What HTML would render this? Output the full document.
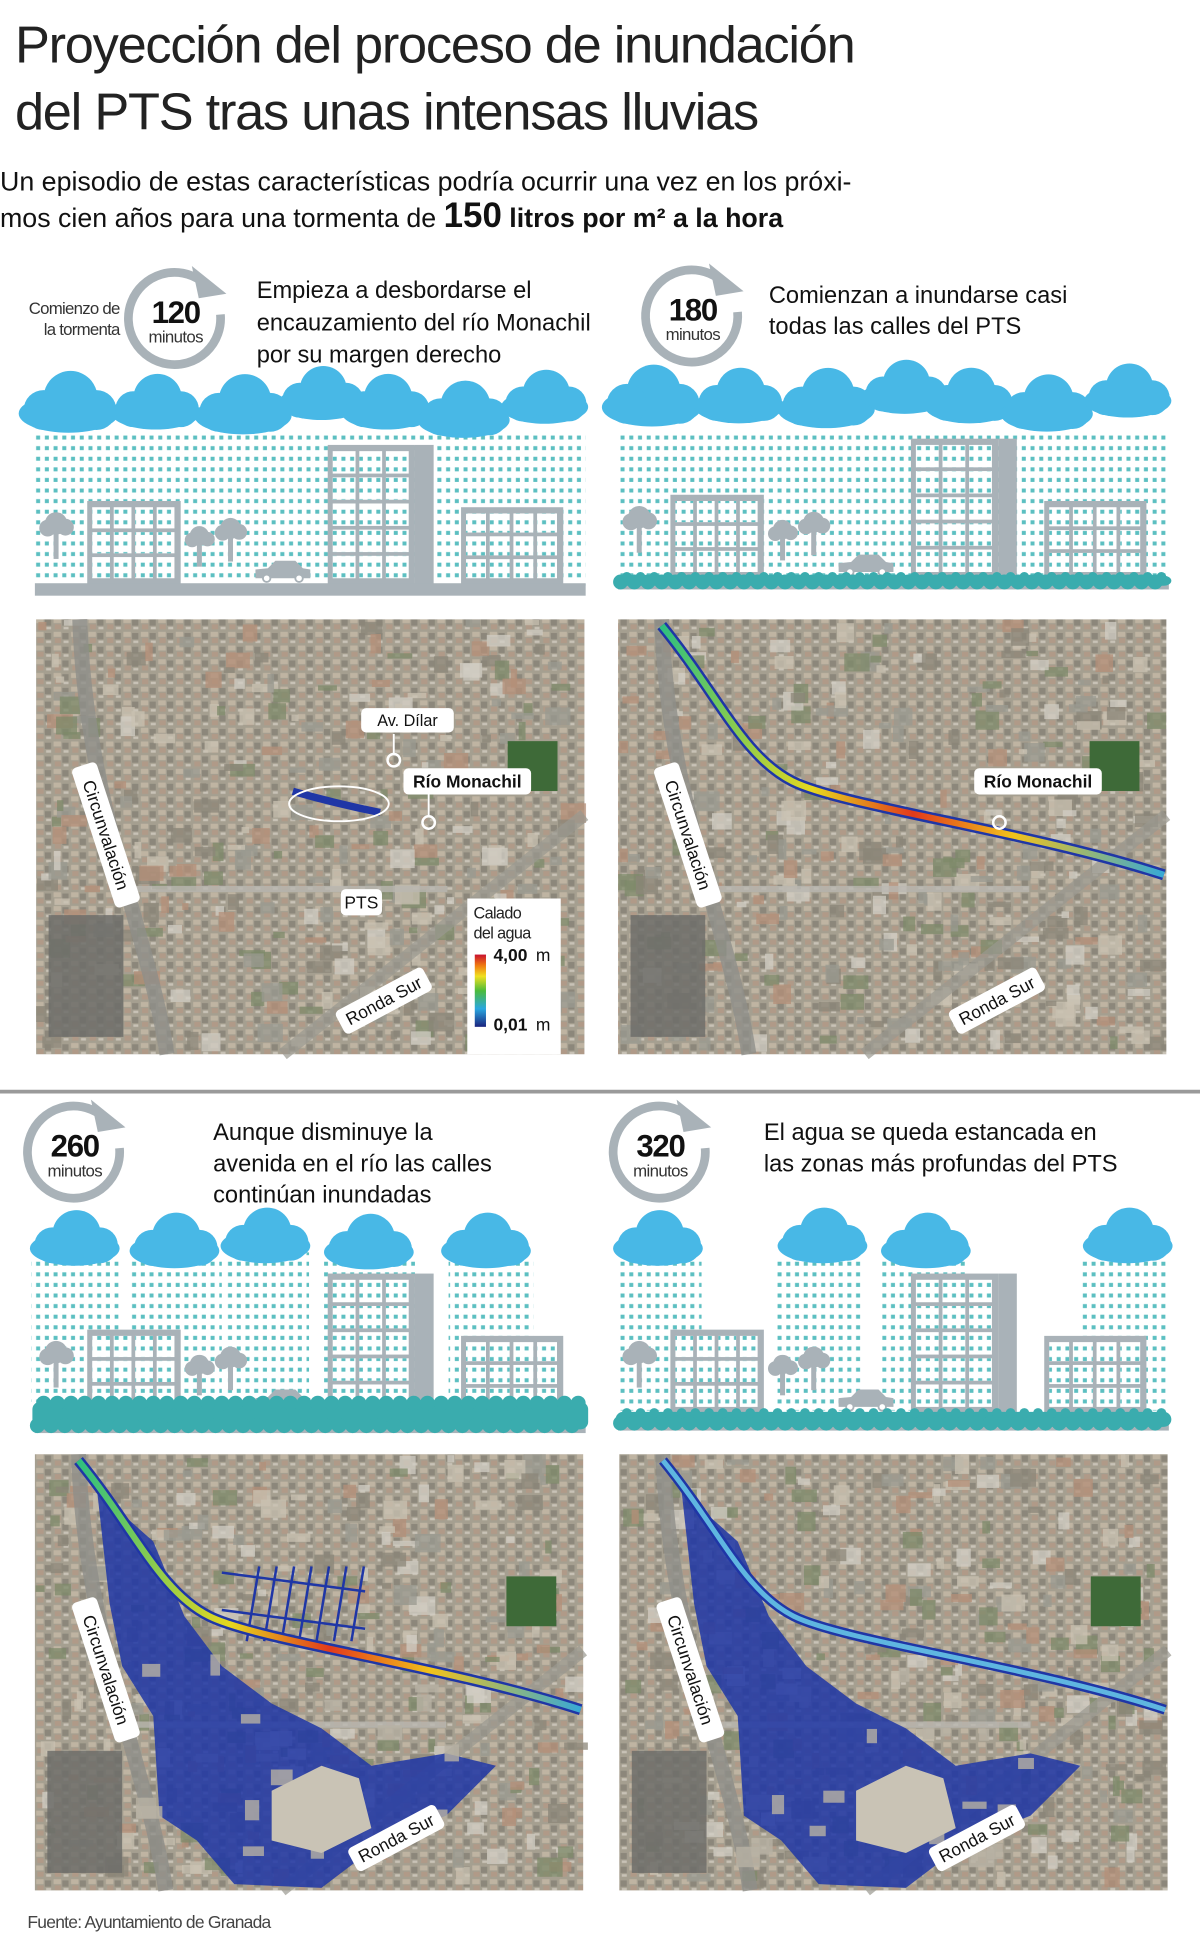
<!DOCTYPE html>
<html><head><meta charset="utf-8">
<style>
html,body{margin:0;padding:0;background:#fff;width:1200px;height:1954px;overflow:hidden;}
svg{display:block;}
text{font-family:"Liberation Sans","DejaVu Sans",sans-serif;}
</style></head>
<body>
<svg id="s" xmlns="http://www.w3.org/2000/svg" width="1200" height="1954" viewBox="0 0 963 1568">
<defs>
<pattern id="rain" x="0" y="0" width="7" height="8.5" patternUnits="userSpaceOnUse">
<rect x="1" y="1" width="3.2" height="3.2" fill="#5cbfc1"/>
</pattern>
<pattern id="aer" x="0" y="0" width="14" height="11" patternUnits="userSpaceOnUse">
<rect width="14" height="11" fill="#a59f90"/>
<rect x="1" y="1" width="6" height="4" fill="#bfb4a2"/>
<rect x="8" y="2" width="5" height="5" fill="#8c877b"/>
<rect x="2" y="6" width="5" height="4" fill="#b09a88"/>
<rect x="9" y="8" width="4" height="2" fill="#c8c2b6"/>
</pattern>
<linearGradient id="leg" x1="0" y1="1" x2="0" y2="0">
<stop offset="0" stop-color="#1a237e"/><stop offset="0.25" stop-color="#2aa7e0"/>
<stop offset="0.5" stop-color="#4cbb3a"/><stop offset="0.7" stop-color="#f0e020"/>
<stop offset="0.85" stop-color="#f07a10"/><stop offset="1" stop-color="#c8102e"/>
</linearGradient>
<linearGradient id="riv" x1="0" y1="0" x2="1" y2="0">
<stop offset="0" stop-color="#2fbf7f"/><stop offset="0.3" stop-color="#e6d81e"/><stop offset="0.5" stop-color="#e23a1b"/><stop offset="0.7" stop-color="#f1c21b"/><stop offset="1" stop-color="#37a9d6"/>
</linearGradient>
</defs>

<text x="12" y="50" font-size="42" fill="#222" letter-spacing="-1">Proyección del proceso de inundación</text>
<text x="12" y="104" font-size="42" fill="#222" letter-spacing="-1">del PTS tras unas intensas lluvias</text>
<text x="0" y="153" font-size="21.5" fill="#111">Un episodio de estas características podría ocurrir una vez en los próxi-</text>
<text x="0" y="182" font-size="21.5" fill="#111" font-weight="bold"><tspan font-weight="normal">mos cien años para una tormenta de </tspan><tspan font-size="28">150</tspan> litros por m² a la hora</text>

<g id="g"></g>

<line x1="0" y1="876" x2="963" y2="876" stroke="#9a9a9a" stroke-width="3"/>
<text x="22" y="1547" font-size="14" fill="#444" letter-spacing="-0.6">Fuente: Ayuntamiento de Granada</text>
</svg>
<script>
var NS="http://www.w3.org/2000/svg",G=document.getElementById('g');
function el(t,a,p){var e=document.createElementNS(NS,t);for(var k in a)e.setAttribute(k,a[k]);(p||G).appendChild(e);return e;}
function tx(x,y,s,str,a){a=a||{};a.x=x;a.y=y;a['font-size']=s;if(!a.fill)a.fill='#111';var e=el('text',a);e.textContent=str;return e;}
var seed=7;function R(){seed=(seed*16807)%2147483647;return seed/2147483647;}
var GR='#a9b2b8';
function clock(cx,cy,num,r){
 el('path',{d:'M '+(cx+r*0.55)+' '+(cy-r*0.83)+' A '+r+' '+r+' 0 1 0 '+(cx+r*0.97)+' '+(cy-r*0.1),fill:'none',stroke:GR,'stroke-width':7});
 el('path',{d:'M '+(cx+r*0.35)+' '+(cy-r*1.15)+' L '+(cx+r*1.1)+' '+(cy-r*0.55)+' L '+(cx+r*0.5)+' '+(cy-r*0.45)+' Z',fill:GR});
 tx(cx,cy+3,25,num,{'text-anchor':'middle','font-weight':'bold','letter-spacing':'-1'});
 tx(cx,cy+19,13.5,'minutos',{'text-anchor':'middle',fill:'#333','letter-spacing':'-0.5'});
}
function cloud(cx,cy,w){
 var h=w*0.35;
 el('ellipse',{cx:cx,cy:cy+h*0.35,rx:w/2,ry:h*0.55,fill:'#48b8e6'});
 el('circle',{cx:cx+w*0.02,cy:cy-h*0.1,r:w*0.27,fill:'#48b8e6'});
 el('circle',{cx:cx-w*0.25,cy:cy+h*0.25,r:w*0.2,fill:'#48b8e6'});
 el('circle',{cx:cx+w*0.28,cy:cy+h*0.25,r:w*0.2,fill:'#48b8e6'});
}
function building(x,y,w,h,cols,rows){
 el('rect',{x:x,y:y,width:w,height:h,fill:GR});
 var pw=(w-6)/cols,ph=(h-8)/rows;
 for(var i=0;i<cols;i++)for(var j=0;j<rows;j++){el('rect',{x:x+4+i*pw,y:y+5+j*ph,width:pw-3,height:ph-3,fill:'#fff'});el('rect',{x:x+4+i*pw,y:y+5+j*ph,width:pw-3,height:ph-3,fill:'url(#rain)'});}
}
function tree(x,y,s){el('rect',{x:x-2,y:y,width:4,height:s*1.9,fill:GR});el('circle',{cx:x,cy:y,r:s*0.6,fill:GR});el('circle',{cx:x-s*0.45,cy:y+s*0.25,r:s*0.45,fill:GR});el('circle',{cx:x+s*0.5,cy:y+s*0.2,r:s*0.45,fill:GR});}
function car(x,y){el('path',{d:'M'+x+' '+(y+14)+' l0 -7 l10 -1 l6 -6 l16 0 l6 6 l6 1 l0 7 z',fill:GR});el('circle',{cx:x+9,cy:y+14,r:3,fill:'#fff',stroke:GR,'stroke-width':1.5});el('circle',{cx:x+35,cy:y+14,r:3,fill:'#fff',stroke:GR,'stroke-width':1.5});}
function scene(ox,oy,rainCols,clouds,ground){
 rainCols.forEach(function(c){el('rect',{x:ox+c[0],y:oy+c[1],width:c[2]-c[0],height:c[3]-c[1],fill:'url(#rain)'});});
 tree(ox+45,oy+420,15);
 building(ox+70,oy+402,75,68,4,3);
 tree(ox+160,oy+430,13);tree(ox+185,oy+424,14);
 car(ox+205,oy+450);
 building(ox+263,oy+357,70,113,3,5);el('rect',{x:ox+333,y:oy+357,width:15,height:113,fill:GR});
 building(ox+370,oy+407,82,63,4,3);
 clouds.forEach(function(c){cloud(ox+c[0],oy+c[1],c[2]);});
 if(ground==0){el('rect',{x:ox+28,y:oy+468,width:442,height:10,fill:GR});}
 else{var y0=oy+ground[0],hh=ground[1];el('rect',{x:ox+28,y:y0+hh-6,width:442,height:6,fill:GR});
  el('rect',{x:ox+26,y:y0+3,width:446,height:hh-6,rx:6,fill:'#3aacae'});
  for(var x=ox+30;x<ox+470;x+=11){el('circle',{cx:x,cy:y0+hh-6,r:6,fill:'#3aacae'});el('circle',{cx:x+5,cy:y0+4,r:hh>20?6:4,fill:'#3aacae'});}}
}
function aerial(x,y,w,h){
 el('rect',{x:x,y:y,width:w,height:h,fill:'url(#aer)'});
 for(var i=0;i<260;i++){var rx=x+R()*(w-14),ry=y+R()*(h-12);var c=['#c9c1b2','#8b8578','#b48f78','#7d8a6a','#9a9a90','#d2cec4'][Math.floor(R()*6)];
  el('rect',{x:rx,y:ry,width:5+R()*16,height:4+R()*12,fill:c,opacity:0.75});}
 el('path',{d:'M'+(x+35)+' '+y+' C '+(x+40)+' '+(y+150)+' '+(x+90)+' '+(y+250)+' '+(x+105)+' '+(y+h),stroke:'#8e8e8a','stroke-width':12,fill:'none',opacity:0.8});
 el('path',{d:'M'+(x+w)+' '+(y+h*0.45)+' L '+(x+w*0.45)+' '+(y+h),stroke:'#9a9890','stroke-width':10,fill:'none',opacity:0.7});
 el('path',{d:'M'+(x+60)+' '+(y+h*0.62)+' L '+(x+w*0.75)+' '+(y+h*0.62),stroke:'#b9b7b0','stroke-width':5,fill:'none',opacity:0.8});
 el('rect',{x:x+w*0.86,y:y+h*0.28,width:40,height:40,fill:'#3e6a38'});
 el('rect',{x:x+10,y:y+h*0.68,width:60,height:h*0.28,fill:'#6d6d6a',opacity:0.85});
}
function label(x,y,str,s,rot,bold){
 var g=el('g',{transform:'translate('+x+','+y+') rotate('+(rot||0)+')'});
 var t=document.createElementNS(NS,'text');t.setAttribute('font-size',s);t.setAttribute('x',0);t.setAttribute('y',s*0.35);t.setAttribute('text-anchor','middle');t.setAttribute('fill','#111');if(bold)t.setAttribute('font-weight','bold');t.textContent=str;
 var w=str.length*s*0.55+10;el('rect',{x:-w/2,y:-s*0.75,width:w,height:s*1.5,rx:4,fill:'#fff'},g);g.appendChild(t);
}
function flood(x,y,big){
 var d='M'+(x+50)+' '+(y+30)+' L'+(x+60)+' '+(y+120)+' L'+(x+70)+' '+(y+170)+' L'+(x+95)+' '+(y+210)+' L'+(x+100)+' '+(y+290)+' L'+(x+130)+' '+(y+310)+' L'+(x+160)+' '+(y+345)+' L'+(x+230)+' '+(y+348)+' L'+(x+280)+' '+(y+310)+' L'+(x+330)+' '+(y+290)+' L'+(x+370)+' '+(y+250)+' L'+(x+330)+' '+(y+240)+' L'+(x+270)+' '+(y+250)+' L'+(x+230)+' '+(y+220)+' L'+(x+190)+' '+(y+200)+' L'+(x+150)+' '+(y+170)+' L'+(x+120)+' '+(y+130)+' L'+(x+95)+' '+(y+70)+' Z';
 el('path',{d:d,fill:'#1f36a6',opacity:0.85});
 for(var i=0;i<18;i++){el('rect',{x:x+80+R()*250,y:y+150+R()*170,width:6+R()*16,height:5+R()*12,fill:'#b8b2a4',opacity:0.8});}
 el('path',{d:'M'+(x+190)+' '+(y+270)+' l40 -20 l30 10 l10 40 l-40 20 l-40 -10 z',fill:'#c9c3b5'});
 if(big){for(var i=0;i<7;i++){el('line',{x1:x+180+i*14,y1:y+90,x2:x+170+i*14,y2:y+150,stroke:'#1f36a6','stroke-width':2});}
  el('line',{x1:x+150,y1:y+95,x2:x+265,y2:y+110,stroke:'#1f36a6','stroke-width':2});el('line',{x1:x+150,y1:y+125,x2:x+265,y2:y+140,stroke:'#1f36a6','stroke-width':2});}
}
function river(x,y,w,col){
 var d='M'+(x+35)+' '+(y+5)+' C '+(x+80)+' '+(y+60)+' '+(x+100)+' '+(y+110)+' '+(x+140)+' '+(y+130)+' S '+(x+330)+' '+(y+170)+' '+(x+438)+' '+(y+205);
 el('path',{d:d,stroke:'#1f36a6','stroke-width':w+4,fill:'none'});
 el('path',{d:d,stroke:col,'stroke-width':w,fill:'none'});
}

// Panel 1
tx(96,252,13.5,'Comienzo de',{'text-anchor':'end',fill:'#333','letter-spacing':'-0.6'});
tx(96,269,13.5,'la tormenta',{'text-anchor':'end',fill:'#333','letter-spacing':'-0.6'});
clock(141,256,'120',37);
tx(206,239,19,'Empieza a desbordarse el');tx(206,265,19,'encauzamiento del río Monachil');tx(206,291,19,'por su margen derecho');
var fullC=[[55,322,80],[125,322,72],[195,324,78],[258,315,70],[310,322,72],[372,328,74],[437,318,70]];
scene(0,0,[[28,345,470,470]],fullC,0);
// Panel 2
clock(556,254,'180',37);
tx(617,243,19,'Comienzan a inundarse casi');tx(617,268,19,'todas las calles del PTS');
scene(468,-5,[[28,350,470,470]],fullC,[464,14]);
// Maps row 1
aerial(29,497,440,349);
el('path',{d:'M235 635 Q270 645 305 652',stroke:'#1f36a6','stroke-width':6,fill:'none'});
el('ellipse',{cx:272,cy:645,rx:40,ry:14,fill:'none',stroke:'#fff','stroke-width':1.5});
el('line',{x1:316,y1:589,x2:316,y2:606,stroke:'#fff','stroke-width':1.5});el('circle',{cx:316,cy:610,r:5,fill:'none',stroke:'#fff','stroke-width':2});
el('line',{x1:344,y1:637,x2:344,y2:655,stroke:'#fff','stroke-width':1.5});el('circle',{cx:344,cy:660,r:5,fill:'none',stroke:'#fff','stroke-width':2});
label(327,578,'Av. Dílar',13);label(375,627,'Río Monachil',14,0,1);label(290,724,'PTS',14);
label(85,670,'Circunvalación',14,72);label(308,803,'Ronda Sur',14,-28);
el('rect',{x:375,y:721,width:75,height:125,fill:'#fff'});
tx(380,737,13,'Calado',{fill:'#222','letter-spacing':'-0.5'});tx(380,753,13,'del agua',{fill:'#222','letter-spacing':'-0.5'});
el('rect',{x:381,y:766,width:9,height:58,fill:'url(#leg)'});
tx(396,771,14,'4,00',{'font-weight':'bold'});tx(430,771,14,'m');tx(396,827,14,'0,01',{'font-weight':'bold'});tx(430,827,14,'m');
aerial(496,497,440,349);
river(496,497,5,'url(#riv)');
label(833,627,'Río Monachil',14,0,1);el('circle',{cx:802,cy:660,r:5,fill:'none',stroke:'#fff','stroke-width':2});
label(552,670,'Circunvalación',14,72);label(800,803,'Ronda Sur',14,-28);
// Panel 3
clock(60,925,'260',37);
tx(171,915,19,'Aunque disminuye la');tx(171,940,19,'avenida en el río las calles');tx(171,965,19,'continúan inundadas');
var c3=[[60,328,72],[140,330,72],[213,326,72],[296,331,72],[390,330,72]];
scene(0,665,[[25,343,95,460],[105,343,178,460],[180,340,248,460],[260,345,333,460],[360,343,428,460]],c3,[457,28]);
// Panel 4
clock(530,925,'320',37);
tx(613,915,19,'El agua se queda estancada en');tx(613,940,19,'las zonas más profundas del PTS');
var c4=[[60,328,72],[192,326,72],[275,330,72],[437,326,72]];
scene(468,665,[[28,345,95,467],[155,345,223,467],[240,345,308,467],[400,345,470,467]],c4,[465,18]);
// Maps row 2
aerial(28,1167,440,350);flood(28,1167,1);river(28,1167,5,'url(#riv)');
label(85,1340,'Circunvalación',14,72);label(318,1475,'Ronda Sur',14,-28);
aerial(497,1167,440,350);flood(497,1167,0);river(497,1167,4,'#5fb6e0');
label(554,1340,'Circunvalación',14,72);label(784,1475,'Ronda Sur',14,-28);
</script>
</body></html>
